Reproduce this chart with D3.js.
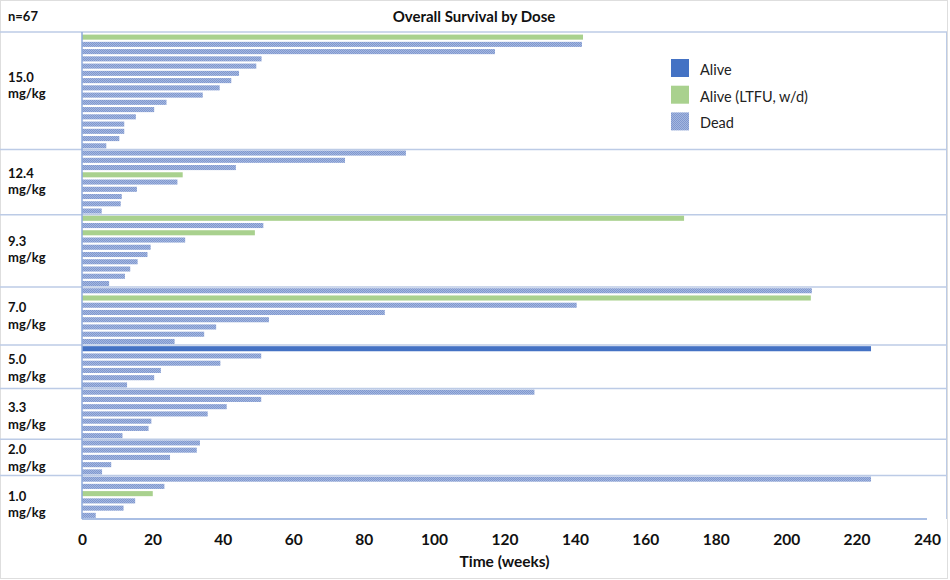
<!DOCTYPE html>
<html><head><meta charset="utf-8">
<script src="https://cdn.jsdelivr.net/npm/d3@7"></script>
<style>
body{margin:0;background:#fff;}
text{font-family:Lato,"Open Sans",sans-serif;}
</style></head>
<body><svg id="c" width="950" height="580"></svg>
<script>
const doseLabels = ["15.0","12.4","9.3","7.0","5.0","3.3","2.0","1.0"];
const weeks = [
  [142.3,142,117.3,51,49.5,44.6,42.4,39.1,34.3,24,20.5,15.3,12,12,10.6,6.9],
  [92,74.7,43.7,28.6,27.1,15.6,11.3,11,5.6],
  [171,51.5,49.1,29.3,19.5,18.6,15.8,13.7,12.2,7.7],
  [207.3,207,140.5,86,53.1,38.1,34.7,26.3],
  [224.1,50.9,39.3,22.4,20.5,12.8],
  [128.5,50.9,41.1,35.7,19.7,18.9,11.5],
  [33.5,32.6,25,8.3,5.7],
  [224.1,23.4,20.1,15.1,11.8,3.9]
];
const status = [
  ["L","D","D","D","D","D","D","D","D","D","D","D","D","D","D","D"],
  ["D","D","D","L","D","D","D","D","D"],
  ["L","D","L","D","D","D","D","D","D","D"],
  ["D","L","D","D","D","D","D","D"],
  ["A","D","D","D","D","D"],
  ["D","D","D","D","D","D","D"],
  ["D","D","D","D","D"],
  ["D","D","L","D","D","D"]
];
const xTicks = [0,20,40,60,80,100,120,140,160,180,200,220,240];
const legendKeys = ["A","L","D"];
const legendLabels = ["Alive","Alive (LTFU, w/d)","Dead"];

// layout: baseline offset of the first label line from the group's centre
const labelShift = [-9,-4.5,-5,-4,-2.5,-1.5,-3,3.5];

const svg = d3.select("#c");
const defs = svg.append("defs");
const pat = defs.append("pattern").attr("id","hatch").attr("width",2).attr("height",2).attr("patternUnits","userSpaceOnUse");
pat.append("rect").attr("width",2).attr("height",2).attr("fill","#a4b7df");
pat.append("rect").attr("width",1).attr("height",1).attr("fill","#8098cf");
pat.append("rect").attr("x",1).attr("y",1).attr("width",1).attr("height",1).attr("fill","#8098cf");
const fillFor = {A:"#4472c4", L:"#a9d18e", D:"url(#hatch)"};

const rows = [];
weeks.forEach((g,gi)=>g.forEach((v,i)=>rows.push({id:gi+"-"+i, g:gi, v, s:status[gi][i]})));

const L = 82, R = 927, T = 32, B = 519, TB = 33.5;
const x = d3.scaleLinear().domain([0,240]).range([L,R]);
const y = d3.scaleBand().domain(rows.map(d=>d.id)).range([TB,B]).paddingInner(0.3).paddingOuter(0.15);
const step = y.step();

// outer border
svg.append("rect").attr("x",0.5).attr("y",0.5).attr("width",947).attr("height",578).attr("fill","none").attr("stroke","#dedede");

// group separators
const sepColor = "#bccbe6";
svg.append("line").attr("x1",0).attr("x2",947).attr("y1",T).attr("y2",T).attr("stroke",sepColor).attr("stroke-width",1.5);
let cum = 0;
doseLabels.forEach((lab,gi)=>{
  const y0 = gi===0 ? T : TB + cum*step;
  cum += weeks[gi].length;
  const y1 = TB + cum*step;
  if (gi < doseLabels.length-1)
    svg.append("line").attr("x1",0).attr("x2",947).attr("y1",y1).attr("y2",y1).attr("stroke",sepColor).attr("stroke-width",1.5);
  const cy = (y0+y1)/2 + labelShift[gi];
  const t = svg.append("text").attr("x",8).attr("font-size",13).attr("font-weight","bold").attr("fill","#111");
  t.append("tspan").attr("x",8).attr("y",cy).text(lab);
  t.append("tspan").attr("x",8).attr("y",cy+16.5).text("mg/kg");
});
svg.append("line").attr("x1",946.5).attr("x2",946.5).attr("y1",T).attr("y2",B).attr("stroke",sepColor).attr("stroke-width",1);

// bars
svg.append("g").selectAll("rect").data(rows).join("rect")
  .attr("x",x(0)).attr("y",d=>y(d.id)).attr("width",d=>x(d.v)-x(0)).attr("height",y.bandwidth())
  .attr("fill",d=>fillFor[d.s]);

// axes lines
svg.append("line").attr("x1",L).attr("x2",L).attr("y1",T).attr("y2",B).attr("stroke","#8eaadb").attr("stroke-width",1.5);
svg.append("line").attr("x1",L).attr("x2",R).attr("y1",B).attr("y2",B).attr("stroke","#8eaadb").attr("stroke-width",1.5);

const ax = svg.append("g").attr("transform",`translate(0,${B})`)
  .call(d3.axisBottom(x).tickValues(xTicks).tickSize(0).tickPadding(15));
ax.select(".domain").remove();
ax.selectAll("text").attr("font-size",15.5).attr("font-weight","bold").attr("fill","#111").attr("font-family","Lato, 'Open Sans', sans-serif");

svg.append("text").attr("x",(L+R)/2).attr("y",567).attr("text-anchor","middle")
  .attr("font-size",15.5).attr("font-weight","bold").attr("fill","#111").text("Time (weeks)");

// title
svg.append("text").attr("x",474).attr("y",22).attr("text-anchor","middle")
  .attr("font-size",15).attr("font-weight","bold").attr("fill","#111").text("Overall Survival by Dose");
svg.append("text").attr("x",8).attr("y",21).attr("font-size",13).attr("font-weight","bold").attr("fill","#111").text("n=67");

// legend
const lg = svg.append("g").attr("transform","translate(671,59)");
legendKeys.forEach((k,i)=>{
  lg.append("rect").attr("x",0).attr("y",i*26.7).attr("width",18).attr("height",18).attr("fill",fillFor[k]);
  lg.append("text").attr("x",29).attr("y",i*26.7+16).attr("font-size",14.5).attr("fill","#222").text(legendLabels[i]);
});
</script></body></html>
